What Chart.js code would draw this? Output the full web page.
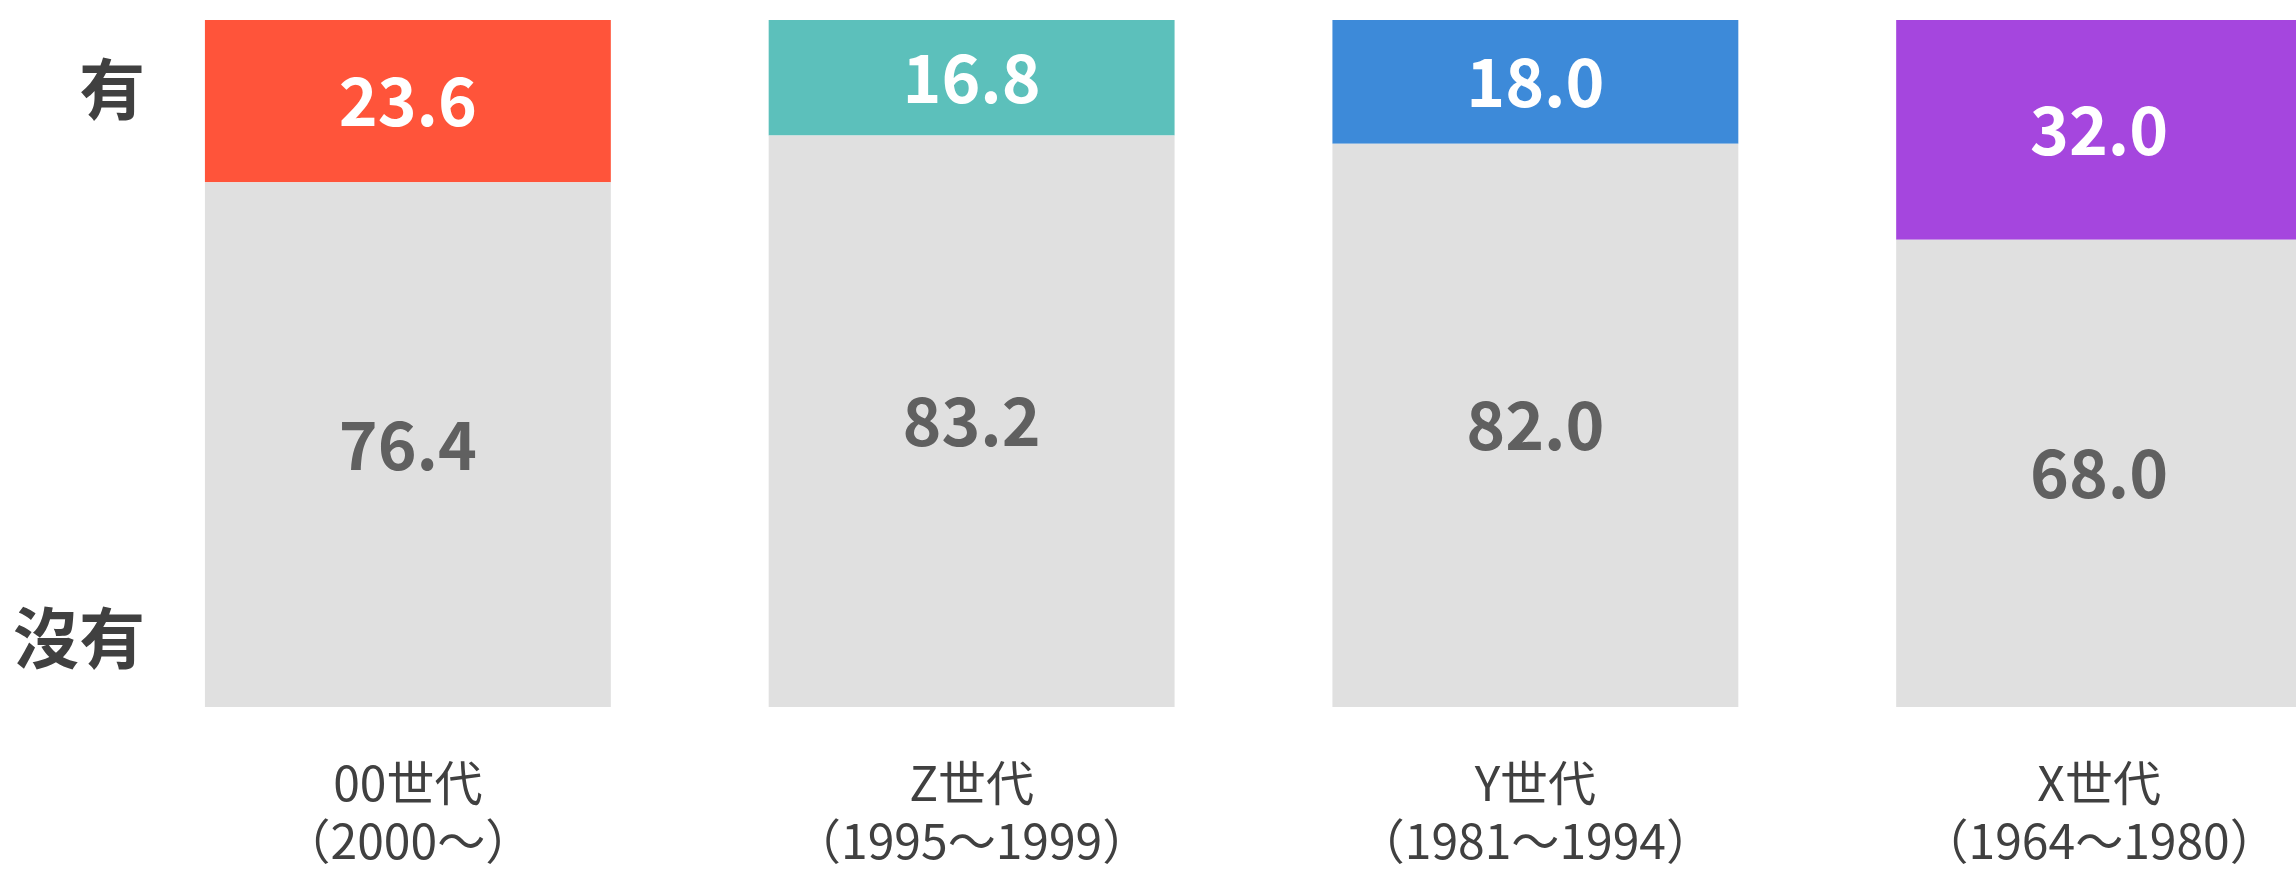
<!DOCTYPE html>
<html>
<head>
<meta charset="utf-8">
<title>世代 有/沒有</title>
<script src="https://cdn.jsdelivr.net/npm/chart.js@4"></script>
<style>
  html, body { margin: 0; padding: 0; background: #fff; overflow: hidden; }
  #wrap { width: 2381px; height: 871px; }
</style>
</head>
<body>
<div id="wrap">
  <canvas id="my-chart" width="2381" height="871"></canvas>
</div>
<script>
'use strict';

// categories (two lines each)
let generations = [
  ['00世代', '（2000～）'],
  ['Z世代', '（1995～1999）'],
  ['Y世代', '（1981～1994）'],
  ['X世代', '（1964～1980）']
];

// series values (%)
let hasValues = [23.6, 16.8, 18.0, 32.0];
let noValues = [76.4, 83.2, 82.0, 68.0];

// y tick labels
let yTickValues = [10, 90];
let yTickLabels = ['沒有', '有'];

let hasColors = ['#FF543A', '#5CC0BB', '#3D8AD9', '#A546DE'];
let noColor = '#E0E0E0';

const FONT = '"Noto Sans CJK TC", "Noto Sans", sans-serif';

// draw value text in the middle of each bar piece
let centerLabels = {
  id: 'centerLabels',
  afterDatasetsDraw(chart) {
    let ctx = chart.ctx;
    ctx.save();
    ctx.font = 'bold 66px ' + FONT;
    ctx.textAlign = 'center';
    ctx.textBaseline = 'middle';
    chart.data.datasets.forEach(function (ds, i) {
      let meta = chart.getDatasetMeta(i);
      meta.data.forEach(function (bar, j) {
        let pt = bar.getCenterPoint();
        ctx.fillStyle = ds.labelColor;
        ctx.fillText(ds.data[j].toFixed(1), pt.x, pt.y);
      });
    });
    ctx.restore();
  }
};

const ctx = document.getElementById('my-chart').getContext('2d');

let chartData = {
  type: 'bar',
  data: {
    labels: generations,
    datasets: [
      {
        label: '沒有',
        data: noValues,
        backgroundColor: noColor,
        labelColor: '#606060',
        borderWidth: 0
      },
      {
        label: '有',
        data: hasValues,
        backgroundColor: hasColors,
        labelColor: '#FFFFFF',
        borderWidth: 0
      }
    ]
  },
  options: {
    responsive: false,
    animation: false,
    devicePixelRatio: 1,
    categoryPercentage: 1,
    barPercentage: 0.72,
    layout: {
      padding: { left: 13, top: 20, right: 0, bottom: 2 }
    },
    plugins: {
      legend: { display: false },
      tooltip: { enabled: false }
    },
    scales: {
      x: {
        stacked: true,
        grid: { display: false, drawTicks: false },
        border: { display: false },
        afterFit: function (axis) {
          axis.height = 162;
        },
        ticks: {
          color: '#404040',
          autoSkip: false,
          maxRotation: 0,
          padding: 47,
          font: { family: FONT, size: 48, weight: 'normal', lineHeight: 1.2 }
        }
      },
      y: {
        stacked: true,
        min: 0,
        max: 100,
        grid: { display: false, drawTicks: false },
        border: { display: false },
        afterBuildTicks: function (axis) {
          axis.ticks = yTickValues.map(function (v) { return { value: v }; });
        },
        afterFit: function (axis) {
          axis.width = 113;
        },
        ticks: {
          color: '#404040',
          mirror: true,
          crossAlign: 'far',
          padding: -113,
          font: { family: FONT, size: 66, weight: 'bold' },
          callback: function (value) {
            let idx = yTickValues.indexOf(value);
            return idx >= 0 ? yTickLabels[idx] : '';
          }
        }
      }
    }
  },
  plugins: [centerLabels]
};

new Chart(ctx, chartData);
</script>
</body>
</html>
